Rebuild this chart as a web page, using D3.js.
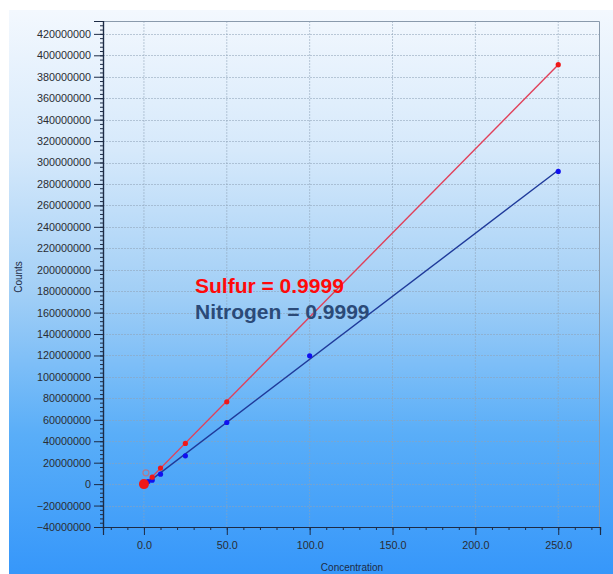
<!DOCTYPE html>
<html>
<head>
<meta charset="utf-8">
<script src="https://cdn.jsdelivr.net/npm/d3@7"></script>
<style>
  body { margin: 0; background: #fff; }
  svg { display: block; }
</style>
</head>
<body>
<div id="chart"></div>
<script>
// data
var sulfurConc   = [0, 5, 10, 25, 50, 250];
var sulfurCounts = [0, 6.5e6, 15e6, 38e6, 76.8e6, 391.3e6];
var sulfurExcludedConc   = [1.2];
var sulfurExcludedCounts = [10.5e6];
var nitrogenConc   = [0, 2.5, 5, 10, 25, 50, 100, 250];
var nitrogenCounts = [0, 2.4e6, 3.7e6, 9.3e6, 26.4e6, 57.5e6, 119.7e6, 291.7e6];
var xTicks = [0, 50, 100, 150, 200, 250];
var yTicks = d3.range(-40e6, 420e6 + 1, 20e6);
var annotations = ["Sulfur = 0.9999", "Nitrogen = 0.9999"];

var W = 613, H = 574;
var margin = {top: 21, right: 13, bottom: 47, left: 103},
    width = W - margin.left - margin.right,
    height = H - margin.top - margin.bottom;

var svgRoot = d3.select("#chart")
  .append("svg")
    .attr("width", W)
    .attr("height", H);

// background gradient
var grad = svgRoot.append("defs").append("linearGradient")
    .attr("id", "bg").attr("x1", 0).attr("y1", 0).attr("x2", 0).attr("y2", 1);
grad.append("stop").attr("offset", "0%").attr("stop-color", "#f3f8fe");
grad.append("stop").attr("offset", "25%").attr("stop-color", "#d6e9fb");
grad.append("stop").attr("offset", "50%").attr("stop-color", "#a2cff6");
grad.append("stop").attr("offset", "75%").attr("stop-color", "#5aaef8");
grad.append("stop").attr("offset", "100%").attr("stop-color", "#3697fa");

svgRoot.append("rect")
  .attr("x", 9).attr("y", 10)
  .attr("width", W - 9).attr("height", H - 10)
  .attr("fill", "url(#bg)");

var svg = svgRoot.append("g")
  .attr("transform", "translate(" + margin.left + "," + margin.top + ")");

var x = d3.scaleLinear()
  .domain([-24.7, 275.2])
  .range([0, width]);

var y = d3.scaleLinear()
  .domain([-40e6, 432e6])
  .range([height, 0]);

// grid
svg.append("g")
  .selectAll("line")
  .data(xTicks)
  .enter().append("line")
    .attr("x1", function(d) { return x(d); })
    .attr("x2", function(d) { return x(d); })
    .attr("y1", 0).attr("y2", height)
    .attr("stroke", "#8fa3b8").attr("stroke-width", 1)
    .attr("stroke-dasharray", "2,1").attr("opacity", 0.55);

svg.append("g")
  .selectAll("line")
  .data(yTicks)
  .enter().append("line")
    .attr("x1", 0).attr("x2", width)
    .attr("y1", function(d) { return Math.round(y(d)) + 0.5; })
    .attr("y2", function(d) { return Math.round(y(d)) + 0.5; })
    .attr("stroke", "#8fa3b8").attr("stroke-width", 1)
    .attr("stroke-dasharray", "2,1").attr("opacity", 0.55);

// frame top/right
svg.append("path")
  .attr("d", "M0,0.5H" + (width - 0.5) + "V" + height)
  .attr("fill", "none").attr("stroke", "#8a9aac");

// least-squares trend line
function fitLine(xs, ys) {
  var mx = d3.mean(xs), my = d3.mean(ys), num = 0, den = 0;
  xs.forEach(function(v, i) { num += (v - mx) * (ys[i] - my); den += (v - mx) * (v - mx); });
  var b = num / den, a = my - b * mx;
  var x0 = d3.min(xs), x1 = d3.max(xs);
  return [[x0, a + b * x0], [x1, a + b * x1]];
}

var line = d3.line()
  .x(function(d) { return x(d[0]); })
  .y(function(d) { return y(d[1]); });

svg.append("path")
  .datum(fitLine(nitrogenConc, nitrogenCounts))
  .attr("d", line)
  .attr("fill", "none").attr("stroke", "#1f3a9a").attr("stroke-width", 1.4);

svg.append("path")
  .datum(fitLine(sulfurConc, sulfurCounts))
  .attr("d", line)
  .attr("fill", "none").attr("stroke", "#e0405a").attr("stroke-width", 1.4);

// points
svg.selectAll("circle.n")
  .data(nitrogenConc)
  .enter().append("circle")
    .attr("class", "n")
    .attr("cx", function(d) { return x(d); })
    .attr("cy", function(d, i) { return y(nitrogenCounts[i]); })
    .attr("r", 2.6)
    .attr("fill", "#1010f0");

svg.selectAll("circle.s")
  .data(sulfurConc)
  .enter().append("circle")
    .attr("class", "s")
    .attr("cx", function(d) { return x(d); })
    .attr("cy", function(d, i) { return y(sulfurCounts[i]); })
    .attr("r", function(d, i) { return i === 0 ? 5 : 2.6; })
    .attr("fill", "#f01818");

svg.selectAll("circle.ex")
  .data(sulfurExcludedConc)
  .enter().append("circle")
    .attr("class", "ex")
    .attr("cx", function(d) { return x(d); })
    .attr("cy", function(d, i) { return y(sulfurExcludedCounts[i]); })
    .attr("r", 3)
    .attr("fill", "none").attr("stroke", "#b07a90").attr("stroke-width", 1.2);

// axes
var axisColor = "#1d2b45";
var xAxis = svg.append("g")
  .attr("transform", "translate(0," + height + ")")
  .call(d3.axisBottom(x).tickValues(d3.range(-20, 271, 10)).tickSize(3).tickFormat(""));
xAxis.append("g").call(d3.axisBottom(x).tickValues(xTicks).tickSize(8).tickPadding(6)
  .tickFormat(d3.format(".1f")));

var yAxis = svg.append("g")
  .call(d3.axisLeft(y).tickValues(d3.range(-40e6, 432e6, 4e6)).tickSize(3).tickFormat(""));
yAxis.append("g").call(d3.axisLeft(y).tickValues(yTicks).tickSize(9).tickPadding(3)
  .tickFormat(d3.format("d")));

svg.selectAll(".domain").attr("stroke", axisColor).attr("stroke-width", 1.2);
svg.selectAll(".tick line").attr("stroke", axisColor);
svg.selectAll(".tick text")
  .style("font-family", "Liberation Sans, Arial, sans-serif")
  .style("font-size", "10.8px")
  .attr("fill", "#2a2d33");
xAxis.select("g").select(".domain").remove();
yAxis.select("g").select(".domain").remove();

// axis titles
svgRoot.append("text")
  .attr("transform", "translate(22,277) rotate(-90)")
  .attr("text-anchor", "middle")
  .style("font-family", "Liberation Sans, Arial, sans-serif")
  .style("font-size", "10px")
  .attr("fill", "#1d2b45")
  .text("Counts");

svgRoot.append("text")
  .attr("x", 352).attr("y", 571)
  .attr("text-anchor", "middle")
  .style("font-family", "Liberation Sans, Arial, sans-serif")
  .style("font-size", "10px")
  .attr("fill", "#1d2b45")
  .text("Concentration");

// correlation labels
var labelColors = ["#ff0a0a", "#2b4a78"];
svgRoot.selectAll("text.ann")
  .data(annotations)
  .enter().append("text")
    .attr("class", "ann")
    .attr("x", 195)
    .attr("y", function(d, i) { return 293 + i * 26; })
    .style("font-family", "Liberation Sans, Arial, sans-serif")
    .style("font-size", "21px")
    .style("font-weight", "bold")
    .attr("fill", function(d, i) { return labelColors[i]; })
    .text(function(d) { return d; });
</script>
</body>
</html>
